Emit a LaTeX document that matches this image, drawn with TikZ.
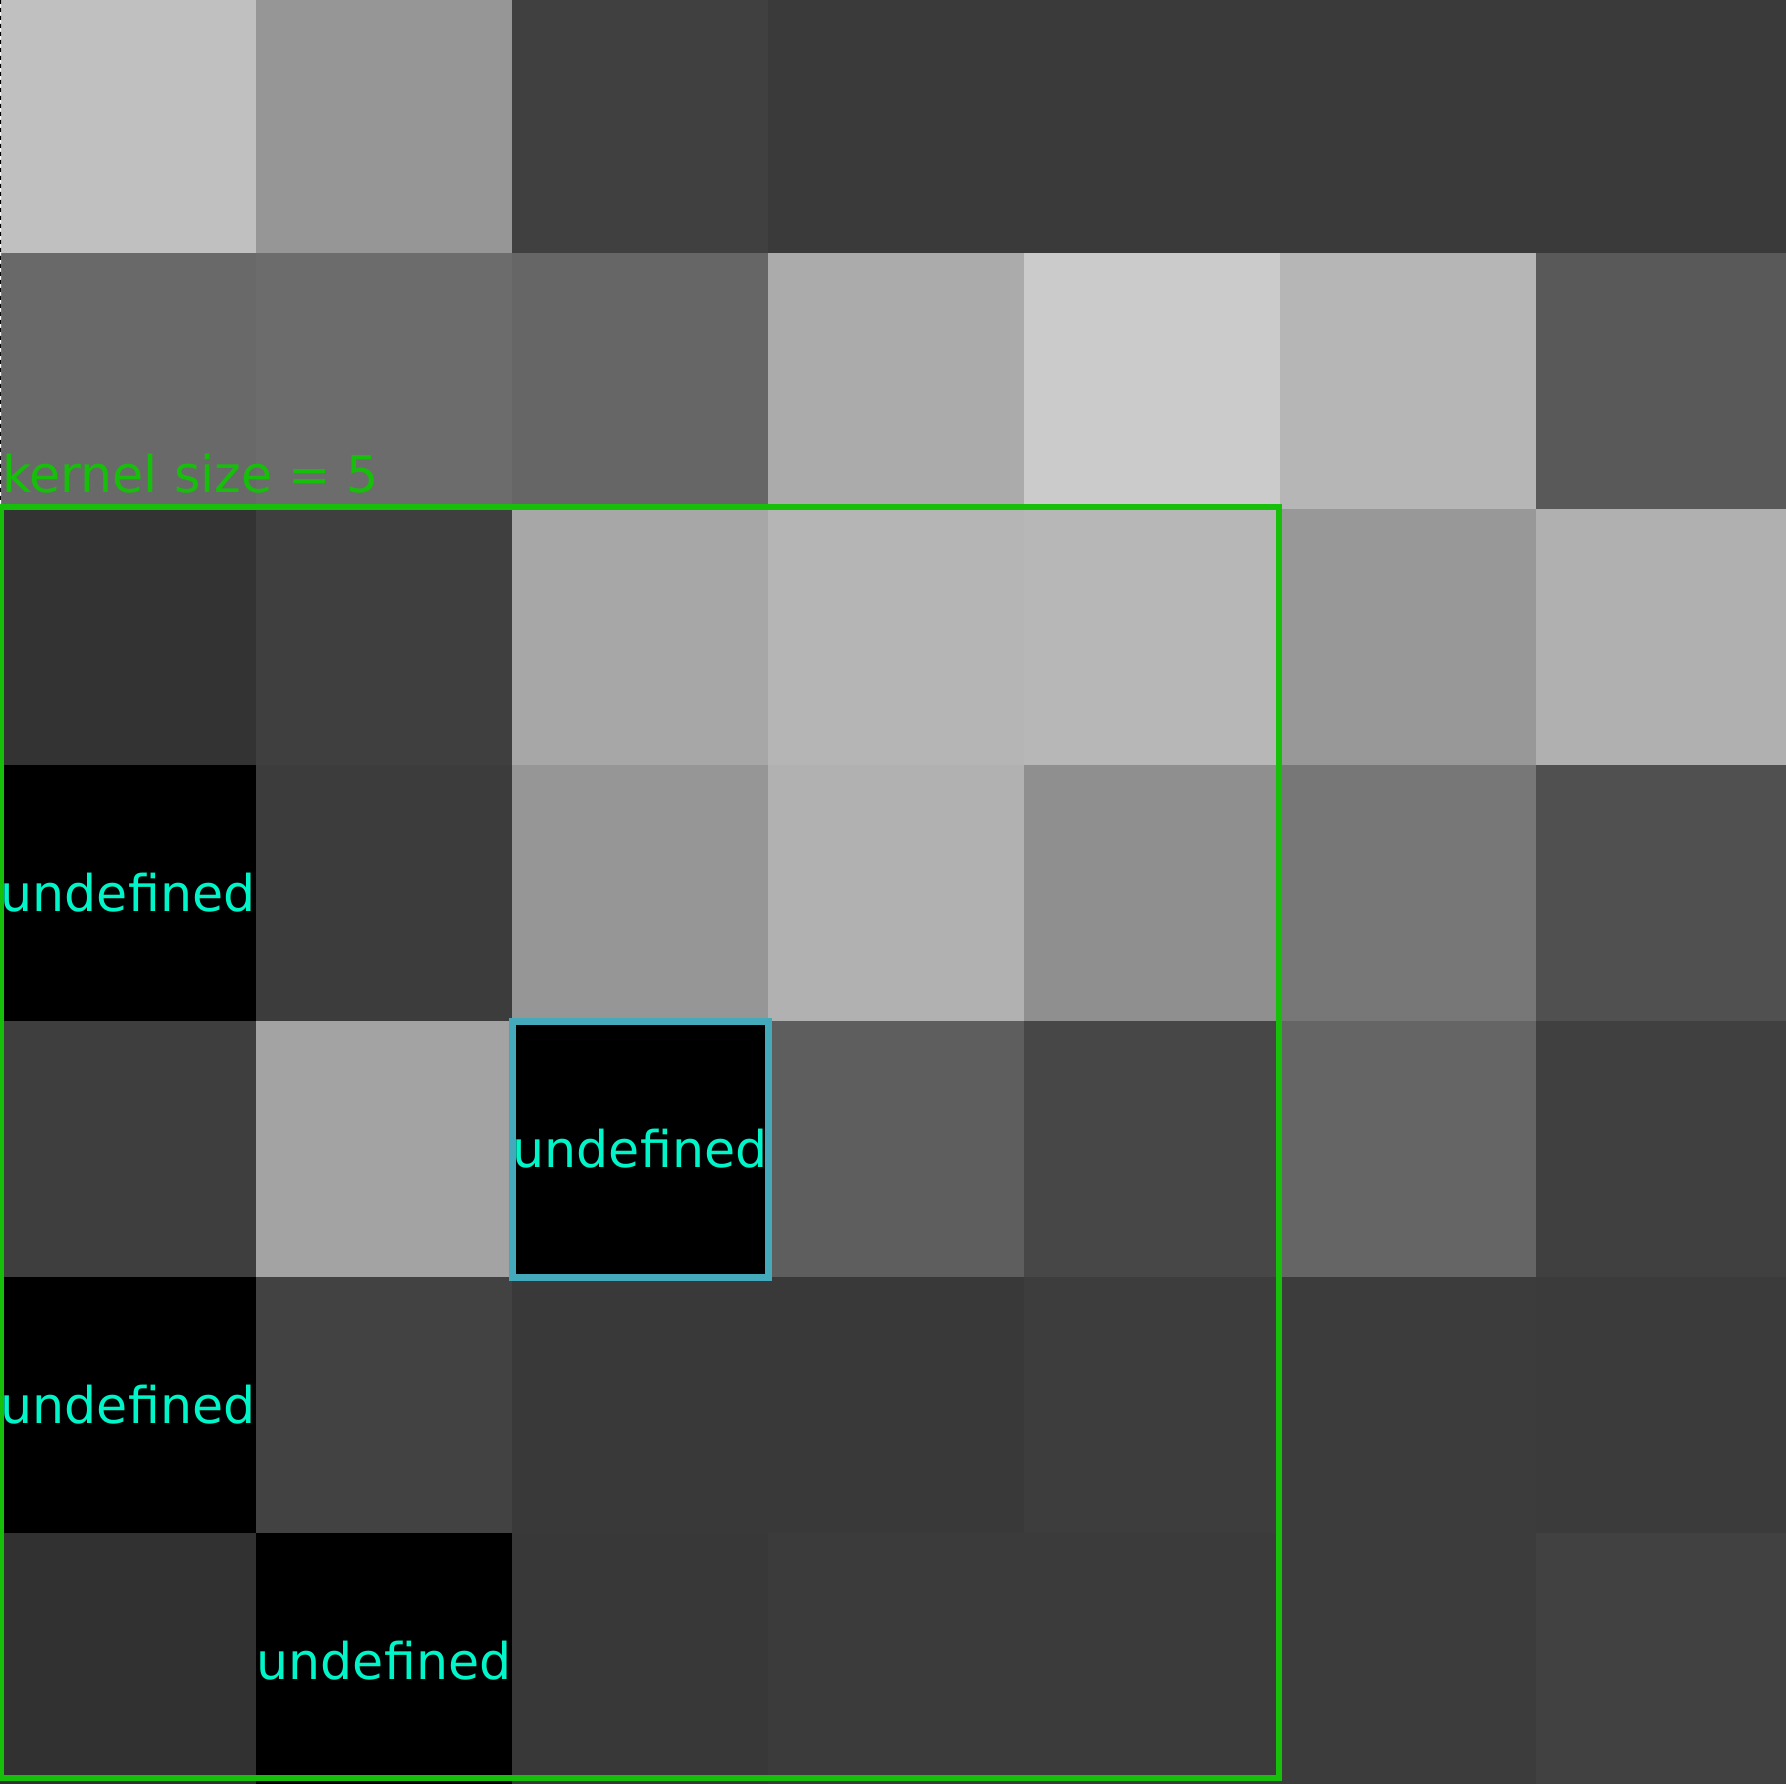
\documentclass[tikz,border=0pt]{standalone}
\usepackage{fontspec}
\setmainfont{DejaVu Sans}
\usetikzlibrary{positioning}
\usetikzlibrary{fit}

\definecolor{kgreen}{RGB}{22,192,10}
\definecolor{undefcyan}{RGB}{0,245,200}
\definecolor{centreblue}{RGB}{68,170,187}

\tikzset{
  cell/.style={minimum size=2.56cm, inner sep=0pt, outer sep=0pt},
  pix/.style={fill={rgb,255:red,#1;green,#1;blue,#1}},
  undef/.style={cell, fill=black, text=undefcyan},
}

\begin{document}
\begin{tikzpicture}[node distance=2.56cm, font=\fontsize{14.4pt}{17pt}\selectfont]
\useasboundingbox (0,0) rectangle (17.86,-17.84);

% row 1
\node (A1) at (1.28,-1.25) [cell, pix=192] {};
\node (A2) [right of = A1, cell, pix=150] {};
\node (A3) [right of = A2, cell, pix=64] {};
\node (A4) [right of = A3, cell, pix=58] {};
\node (A5) [right of = A4, cell, pix=58] {};
\node (A6) [right of = A5, cell, pix=58] {};
\node (A7) [right of = A6, cell, pix=58] {};

% row 2
\node (B1) [below of = A1, cell, pix=105] {};
\node (B2) [right of = B1, cell, pix=108] {};
\node (B3) [right of = B2, cell, pix=102] {};
\node (B4) [right of = B3, cell, pix=171] {};
\node (B5) [right of = B4, cell, pix=203] {};
\node (B6) [right of = B5, cell, pix=182] {};
\node (B7) [right of = B6, cell, pix=89] {};

% row 3
\node (C1) [below of = B1, cell, pix=51] {};
\node (C2) [right of = C1, cell, pix=63] {};
\node (C3) [right of = C2, cell, pix=167] {};
\node (C4) [right of = C3, cell, pix=181] {};
\node (C5) [right of = C4, cell, pix=183] {};
\node (C6) [right of = C5, cell, pix=152] {};
\node (C7) [right of = C6, cell, pix=176] {};

% row 4
\node (D1) [below of = C1, undef] {undefined};
\node (D2) [right of = D1, cell, pix=60] {};
\node (D3) [right of = D2, cell, pix=150] {};
\node (D4) [right of = D3, cell, pix=177] {};
\node (D5) [right of = D4, cell, pix=143] {};
\node (D6) [right of = D5, cell, pix=119] {};
\node (D7) [right of = D6, cell, pix=80] {};

% row 5
\node (E1) [below of = D1, cell, pix=62] {};
\node (E2) [right of = E1, cell, pix=163] {};
\node (E3) [right of = E2, undef] {undefined};
\node (E4) [right of = E3, cell, pix=94] {};
\node (E5) [right of = E4, cell, pix=71] {};
\node (E6) [right of = E5, cell, pix=101] {};
\node (E7) [right of = E6, cell, pix=64] {};

% row 6
\node (F1) [below of = E1, undef] {undefined};
\node (F2) [right of = F1, cell, pix=66] {};
\node (F3) [right of = F2, cell, pix=57] {};
\node (F4) [right of = F3, cell, pix=57] {};
\node (F5) [right of = F4, cell, pix=61] {};
\node (F6) [right of = F5, cell, pix=60] {};
\node (F7) [right of = F6, cell, pix=59] {};

% row 7
\node (G1) [below of = F1, cell, pix=49] {};
\node (G2) [right of = G1, undef] {undefined};
\node (G3) [right of = G2, cell, pix=56] {};
\node (G4) [right of = G3, cell, pix=59] {};
\node (G5) [right of = G4, cell, pix=59] {};
\node (G6) [right of = G5, cell, pix=60] {};
\node (G7) [right of = G6, cell, pix=65] {};

% left edge above the kernel
\draw[white, line width=0.012cm] (0.006,0) -- ([xshift=0.006cm]C1.north west);
\draw[black, line width=0.012cm, dash pattern=on 0.04cm off 0.04cm] (0.006,0) -- ([xshift=0.006cm]C1.north west);

\node (centre) [draw=centreblue, line width=0.07cm, inner sep=0pt, outer sep=0pt, fit=(E3)] {};

\coordinate (KNW) at ([xshift=0.015cm,yshift=0.02cm]C1.north west);
\coordinate (KSE) at ([xshift=-0.01cm,yshift=0.11cm]G5.south east);
\node (kernel) [draw=kgreen, line width=0.06cm, inner sep=0pt, outer sep=0pt, fit=(KNW) (KSE)] {};
\node (K) [anchor=base west, inner sep=0pt, text=kgreen] at ([yshift=0.15cm]kernel.north west) {kernel size = 5};
\end{tikzpicture}
\end{document}
